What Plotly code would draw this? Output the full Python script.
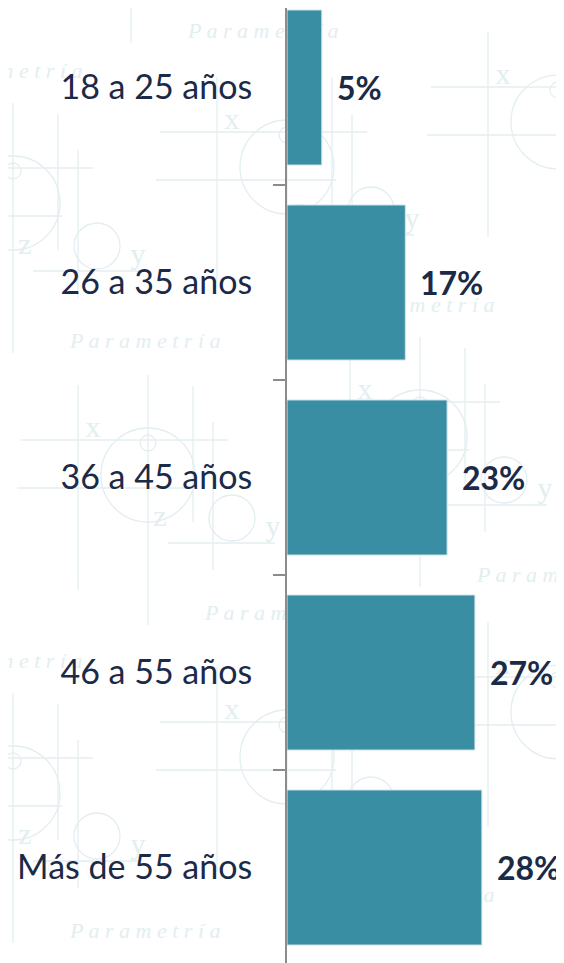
import plotly.graph_objects as go

categories = ["18 a 25 años", "26 a 35 años", "36 a 45 años", "46 a 55 años", "Más de 55 años"]
values = [5, 17, 23, 27, 28]
value_labels = ["5%", "17%", "23%", "27%", "28%"]

BAR_COLOR = "#3a8ea3"
LABEL_COLOR = "#1b2a47"
AXIS_COLOR = "#8c8c8c"
WM = "#e3eef1"
FONT = "Lato, 'Open Sans', sans-serif"

pos = list(range(len(categories)))

# page geometry (browser body has an 8px margin)
FIG_W, FIG_H = 556, 955
PL, PT = 287, 8          # plot area left / top in page px
PW, PH = 564 - PL, 963 - PT


def px(x):
    return (x - PL) / PW


def py(y):
    return (963 - y) / PH


fig = go.Figure()
fig.add_trace(go.Bar(
    y=pos, x=values, orientation="h", width=0.795,
    marker=dict(color=BAR_COLOR, line=dict(color="#cfe3e8", width=1)),
    hoverinfo="skip",
))

annotations = []
for p, v, t in zip(pos, values, value_labels):
    annotations.append(dict(x=v, y=p, xref="x", yref="y", text="<b>%s</b>" % t,
                            showarrow=False, xanchor="left", yanchor="middle", xshift=13,
                            font=dict(family=FONT, size=32, color=LABEL_COLOR)))

# faint "Parametría" watermark tiles (background decoration), centres in page px
tiles = [(131, -107), (-125, -67), (558, 122), (287, 167), (13, 203), (420, 437),
         (148, 475), (-125, 523), (558, 712), (287, 757), (13, 793)]
shapes = []


def circ(cx, cy, r, w=1.3):
    shapes.append(dict(type="circle", xref="paper", yref="paper",
                       x0=px(cx - r), x1=px(cx + r), y0=py(cy + r), y1=py(cy - r),
                       line=dict(color=WM, width=w), layer="below"))


def seg(x0, y0, x1, y1):
    shapes.append(dict(type="line", xref="paper", yref="paper",
                       x0=px(x0), x1=px(x1), y0=py(y0), y1=py(y1),
                       line=dict(color=WM, width=1.3), layer="below"))


def txt(x, y, t, size, italic, anchor):
    w = 10 if anchor == "middle left" else 1
    xx = x - 3 if anchor == "middle left" else x
    shapes.append(dict(type="rect", xref="paper", yref="paper",
                       x0=px(xx - (0 if anchor == "middle left" else w / 2)),
                       x1=px(xx + w / (1 if anchor == "middle left" else 2)),
                       y0=py(y + 1), y1=py(y - 1), line=dict(width=0),
                       fillcolor="rgba(0,0,0,0)", layer="below",
                       label=dict(text=t, textposition=anchor,
                                  font=dict(family="Liberation Serif", size=size, color=WM,
                                            style="italic" if italic else "normal"))))


for cx, cy in tiles:
    circ(cx, cy, 47)
    circ(cx, cy - 32, 8)
    circ(cx + 84, cy + 43, 23)
    seg(cx - 70, cy - 90, cx - 70, cy + 115)
    seg(cx, cy - 100, cx, cy + 150)
    seg(cx + 45, cy - 89, cx + 45, cy + 47)
    seg(cx + 65, cy - 53, cx + 65, cy + 95)
    seg(cx - 127, cy - 35, cx + 80, cy - 35)
    seg(cx - 131, cy + 13, cx + 49, cy + 13)
    seg(cx + 20, cy + 68, cx + 127, cy + 68)
    txt(cx - 55, cy - 52, "x", 30, False, "middle center")
    txt(cx + 12, cy + 37, "z", 30, False, "middle center")
    txt(cx + 125, cy + 47, "y", 30, False, "middle center")
    txt(cx + 54, cy + 135, "P a r a m e t r í a", 22, True, "middle left")

fig.update_layout(
    width=FIG_W, height=FIG_H,
    margin=dict(l=PL - 8, r=0, t=0, b=0),
    paper_bgcolor="white", plot_bgcolor="rgba(0,0,0,0)",
    showlegend=False,
    annotations=annotations,
    shapes=shapes,
    xaxis=dict(range=[0, 39.8], showgrid=False, zeroline=False, showline=False,
               showticklabels=False, ticks=""),
    yaxis=dict(range=[4.4897, -0.4077], tickmode="array", tickvals=pos, ticktext=categories,
               ticks="", showgrid=False, zeroline=False, showline=True,
               linecolor=AXIS_COLOR, linewidth=2, ticklabelstandoff=26,
               tickfont=dict(family=FONT, size=34, color=LABEL_COLOR),
               minor=dict(tick0=0.5, dtick=1, ticks="outside", ticklen=12,
                          tickcolor=AXIS_COLOR, tickwidth=2, showgrid=False)),
)

fig.write_html("out.html")
